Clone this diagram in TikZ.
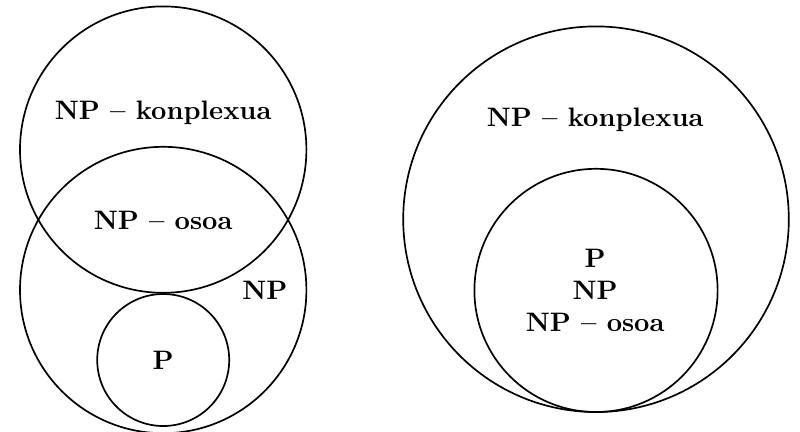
\documentclass[tikz,border=0pt]{standalone}
\usepackage{xcolor}
\usepackage{amsmath}

\begin{document}
\begin{tikzpicture}[node distance=1cm, font=\fontsize{9.5}{11.4}\selectfont\bfseries,
    venn/.style={circle, draw, semithick, inner sep=0pt}]
    \useasboundingbox (0,0) rectangle (10,-5.3875);
    % left: the two overlapping sets and P inside NP
    \node[venn, minimum size=3.58cm] (konplexua) at (2.04,-1.87) {};
    \node[venn, minimum size=3.58cm, below of=konplexua, node distance=1.755cm] (np) {};
    \node[venn, minimum size=1.65cm, below of=np, node distance=0.875cm] (p) {};
    \node at (2.04,-1.41) (konplexuatxt) {NP -- konplexua};
    \node at (2.04,-2.75) (osoatxt) {NP -- osoa};
    \node at (3.31,-3.625) (nptxt) {NP};
    \node at (p) (ptxt) {P};
    % right: everything nested in the complex NPs
    \node[venn, minimum size=4.82cm] (konplexua2) at (7.45,-2.74) {};
    \node[venn, minimum size=3.04cm, below of=konplexua2, node distance=0.89cm] (np2) {};
    \node at (7.44,-1.5) (konplexuatxt2) {NP -- konplexua};
    \node[align=center] at (7.44,-3.625) (nptxt2) {P\\NP\\NP -- osoa};
\end{tikzpicture}
\end{document}
